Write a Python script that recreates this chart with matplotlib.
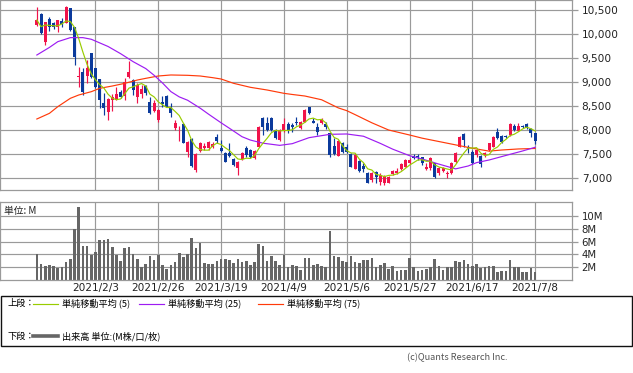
import numpy as np
import pandas as pd
import matplotlib
matplotlib.use("Agg")
import matplotlib.pyplot as plt
from matplotlib.lines import Line2D
from matplotlib.patches import Rectangle

# ---------------- data ----------------
holidays = ["2021-02-11", "2021-02-23", "2021-04-29",
            "2021-05-03", "2021-05-04", "2021-05-05"]
dates = pd.bdate_range("2021-01-14", "2021-07-08", freq="C", holidays=holidays)

opens = [10190, 10415, 9840, 10310, 10235, 10140, 10270, 10235, 10535, 10150,
         9100, 9215, 9125, 9595, 9285, 9060, 8570, 8380, 8625, 8625,
         8800, 8710, 9110, 9040, 8695, 8750, 8915, 8590, 8405, 8210,
         8590, 8710, 8485, 8035, 7975, 8125, 7550, 7805, 7165, 7570,
         7620, 7620, 7655, 7860, 7620, 7530, 7530, 7390, 7200, 7390,
         7620, 7585, 7410, 7655, 8245, 8155, 8245, 8000, 7790, 8000,
         8125, 8105, 8175, 8035, 8175, 8470, 8195, 8055, 8140, 8125,
         7930, 7675, 7465, 7720, 7655, 7495, 7190, 7355, 7250, 7110,
         6960, 7130, 6925, 6890, 6905, 7085, 7100, 7185, 7235, 7305,
         7465, 7460, 7430, 7180, 7200, 7305, 7100, 7155, 7085, 7100,
         7340, 7655, 7915, 7650, 7545, 7480, 7460, 7480, 7585, 7655,
         7965, 7875, 7875, 7895, 8085, 7985, 8090, 8125, 8015, 7930]
highs = [10555, 10430, 10260, 10345, 10255, 10295, 10325, 10590, 10540, 10155,
         9320, 9285, 9460, 9610, 9300, 9065, 8765, 8660, 8745, 8890,
         8835, 9075, 9435, 9055, 8970, 8935, 8935, 8695, 8625, 8430,
         8710, 8730, 8555, 8210, 8085, 8155, 7780, 7825, 7515, 7755,
         7735, 7765, 7755, 7915, 7790, 7550, 7735, 7410, 7345, 7550,
         7665, 7600, 7585, 8085, 8280, 8280, 8265, 8015, 8015, 8245,
         8175, 8140, 8275, 8195, 8430, 8485, 8245, 8140, 8245, 8175,
         7945, 7825, 7790, 7755, 7710, 7515, 7530, 7375, 7305, 7130,
         7130, 7150, 7095, 7060, 7040, 7165, 7200, 7320, 7390, 7410,
         7500, 7500, 7445, 7305, 7445, 7320, 7235, 7220, 7155, 7340,
         7550, 7875, 7930, 7690, 7585, 7600, 7480, 7550, 7735, 7875,
         8035, 7895, 7895, 8140, 8125, 8155, 8105, 8155, 8035, 7945]
lows = [10175, 9995, 9770, 10070, 10100, 10050, 10155, 10220, 10070, 9355,
        8905, 8730, 8985, 9075, 8870, 8450, 8310, 8210, 8400, 8620,
        8660, 8625, 9075, 8730, 8555, 8660, 8730, 8335, 8380, 8175,
        8485, 8470, 8280, 8000, 7780, 7720, 7445, 7235, 7130, 7545,
        7585, 7585, 7620, 7735, 7545, 7325, 7445, 7255, 7060, 7375,
        7445, 7410, 7395, 7640, 7895, 7985, 7985, 7805, 7780, 7965,
        7930, 7965, 8105, 8015, 8160, 8335, 8140, 7895, 8125, 8015,
        7445, 7480, 7455, 7530, 7530, 7220, 7185, 7130, 7130, 6890,
        6925, 6890, 6855, 6855, 6890, 7060, 7085, 7165, 7220, 7290,
        7390, 7375, 7270, 7165, 7165, 7005, 7060, 7130, 6995, 7085,
        7320, 7640, 7655, 7530, 7290, 7445, 7235, 7445, 7570, 7640,
        7805, 7735, 7825, 7880, 7985, 7980, 8035, 8015, 7860, 7710]
closes = [10290, 10015, 10255, 10155, 10140, 10290, 10210, 10570, 10085, 9530,
          9125, 8800, 9285, 9110, 8905, 8625, 8450, 8640, 8695, 8750,
          8695, 9005, 9215, 8835, 8935, 8845, 8765, 8350, 8555, 8415,
          8540, 8485, 8345, 8155, 7985, 7735, 7755, 7250, 7500, 7720,
          7675, 7755, 7705, 7780, 7570, 7340, 7460, 7270, 7340, 7515,
          7480, 7430, 7570, 8070, 8070, 8000, 8000, 7825, 8000, 8125,
          8000, 8070, 8140, 8175, 8415, 8350, 8155, 7965, 8220, 8055,
          7480, 7500, 7775, 7550, 7550, 7235, 7480, 7155, 7180, 6905,
          7110, 7030, 7060, 7040, 7030, 7145, 7155, 7290, 7375, 7375,
          7410, 7430, 7305, 7220, 7410, 7015, 7200, 7200, 7110, 7320,
          7530, 7860, 7790, 7625, 7305, 7585, 7290, 7530, 7720, 7860,
          7825, 7760, 7850, 8120, 8000, 8085, 8055, 8040, 7945, 7780]
volumes_m = [4.0, 2.5, 2.2, 2.35, 2.2, 1.9, 2.0, 2.8, 3.3, 8.0,
             11.4, 5.3, 5.3, 3.9, 4.4, 6.25, 6.25, 6.4, 5.2, 3.9,
             3.0, 5.0, 5.2, 4.0, 3.3, 2.0, 2.5, 3.75, 3.1, 3.9,
             2.35, 1.7, 2.35, 2.8, 4.2, 3.6, 4.0, 6.6, 5.0, 5.8,
             2.65, 2.5, 2.5, 3.0, 3.3, 3.3, 3.1, 2.65, 3.3, 2.8,
             3.0, 2.35, 2.8, 5.6, 5.3, 3.0, 3.75, 3.0, 2.35, 3.9,
             2.0, 2.35, 2.2, 1.55, 3.45, 3.45, 2.35, 2.5, 2.2, 2.0,
             7.65, 3.75, 3.6, 3.0, 2.8, 3.75, 2.8, 2.65, 3.1, 3.1,
             3.45, 2.0, 2.35, 2.65, 1.7, 2.2, 1.4, 1.55, 1.55, 3.45,
             2.0, 1.4, 1.55, 1.7, 2.0, 3.3, 2.2, 1.55, 2.0, 2.0,
             3.0, 2.8, 3.1, 2.5, 2.2, 2.5, 1.9, 2.0, 2.2, 2.2,
             1.25, 1.4, 1.4, 3.1, 2.0, 2.0, 1.25, 1.25, 1.9, 1.25]

# 25 / 75 day moving averages (trading-day index, value)
ma25_idx = [0, 3, 5, 8, 11, 13, 17, 20, 23, 26, 28, 30, 32, 34, 36, 39, 41, 44,
            46, 49, 51, 54, 58, 61, 65, 70, 74, 78, 82, 85, 89, 92, 96, 100,
            103, 105, 108, 113, 116, 119]
ma25_val = [9562, 9720, 9840, 9924, 9924, 9890, 9740, 9590, 9423, 9280, 9140,
            8980, 8800, 8690, 8620, 8455, 8330, 8150, 8035, 7860, 7790, 7725,
            7680, 7715, 7840, 7910, 7917, 7870, 7722, 7600, 7465, 7396, 7290,
            7190, 7250, 7320, 7375, 7493, 7563, 7640]
ma75_idx = [0, 3, 5, 8, 10, 13, 15, 18, 21, 24, 26, 29, 32, 36, 39, 42, 44, 47,
            51, 55, 59, 61, 64, 68, 72, 74, 76, 80, 84, 89, 92, 96, 100, 104,
            108, 111, 115, 119]
ma75_val = [8229, 8347, 8486, 8660, 8729, 8798, 8868, 8916, 8972, 9041, 9076,
            9125, 9146, 9139, 9125, 9090, 9062, 8972, 8889, 8833, 8764, 8740,
            8708, 8630, 8460, 8403, 8320, 8150, 8000, 7896, 7830, 7760, 7690,
            7620, 7560, 7583, 7605, 7615]

price_ticks = [7000, 7500, 8000, 8500, 9000, 9500, 10000, 10500]
price_tick_labels = ["7,000", "7,500", "8,000", "8,500", "9,000", "9,500",
                     "10,000", "10,500"]
vol_ticks = [2, 4, 6, 8, 10]
vol_tick_labels = ["2M", "4M", "6M", "8M", "10M"]
date_tick_labels = ["2021/2/3", "2021/2/26", "2021/3/19", "2021/4/9",
                    "2021/5/6", "2021/5/27", "2021/6/17", "2021/7/8"]

# ---------------- styling ----------------
RED = "#f0134a"
BLUE = "#0b3a9c"
GRID = "#9a9a9a"
C5 = "#99cc00"
C25 = "#9d1cf2"
C75 = "#ff3a0a"
VOLC = "#666666"
JP = ["Noto Sans CJK JP", "DejaVu Sans"]

W, H = 633, 373
fig = plt.figure(figsize=(W / 100, H / 100), dpi=100)


def rect(l, t, r, b):
    return [l / W, 1 - b / H, (r - l) / W, (b - t) / H]


def fx(px):
    return px / W


def fy(py):
    return 1 - py / H


x = np.arange(len(dates))
O = np.array(opens, float)
Hh = np.array(highs, float)
L = np.array(lows, float)
C = np.array(closes, float)
ma5 = pd.Series(C).rolling(5, min_periods=1).mean().values

date_strs = [f"{d.year}/{d.month}/{d.day}" for d in dates]
tick_pos = [date_strs.index(s) for s in date_tick_labels]

xlim = (-8.8, 127.8)

# ---------------- price panel ----------------
ax = fig.add_axes(rect(0, 0, 572, 190))
ax.set_xlim(*xlim)
ax.set_ylim(6750, 10708)
up = C >= O
cols = np.where(up, RED, BLUE)
ax.vlines(x, L, Hh, colors=cols, lw=0.85, zorder=2)
body_b = np.minimum(O, C)
body_h = np.maximum(np.abs(C - O), 14)
ax.bar(x, body_h, bottom=body_b, width=0.72, color=cols, lw=0, zorder=2)
ax.plot(ma75_idx, ma75_val, color=C75, lw=0.85, zorder=3)
ax.plot(ma25_idx, ma25_val, color=C25, lw=0.85, zorder=3)
ax.plot(x, ma5, color=C5, lw=0.85, zorder=4)

ax.set_yticks(price_ticks)
ax.set_yticklabels(price_tick_labels)
ax.yaxis.tick_right()
ax.set_xticks(tick_pos)
ax.set_xticklabels([])
ax.tick_params(axis="x", length=0)
ax.tick_params(axis="y", length=4, width=0.9, color=GRID, pad=3,
               labelsize=7.6, labelcolor="#222222")
ax.grid(True, color=GRID, lw=0.85, zorder=0)
ax.set_axisbelow(True)
for s in ax.spines.values():
    s.set_color(GRID)
    s.set_linewidth(0.9)

# ---------------- volume panel ----------------
axv = fig.add_axes(rect(0, 201.7, 572, 280))
axv.set_xlim(*xlim)
axv.set_ylim(0, 12.25)
axv.bar(x, volumes_m, width=0.62, color=VOLC, lw=0, zorder=2)
axv.set_yticks(vol_ticks)
axv.set_yticklabels(vol_tick_labels)
axv.yaxis.tick_right()
axv.set_xticks(tick_pos)
axv.set_xticklabels(date_tick_labels)
axv.tick_params(axis="x", length=0, pad=2.5, labelsize=7.6, labelcolor="#222222")
axv.tick_params(axis="y", length=4, width=0.9, color=GRID, pad=3,
                labelsize=7.3, labelcolor="#222222")
axv.grid(True, color=GRID, lw=0.85, zorder=0)
axv.set_axisbelow(True)
for s in axv.spines.values():
    s.set_color(GRID)
    s.set_linewidth(0.9)
axv.text(4 / 572, 0.88, "単位: M", transform=axv.transAxes, family=JP,
         fontsize=7, va="center", ha="left", color="#222222")

# ---------------- legend box ----------------
fig.patches.append(Rectangle((fx(0.5), fy(346)), fx(631.5) - fx(0.5), fy(296) - fy(346),
                             transform=fig.transFigure, fill=False,
                             edgecolor="#111111", lw=1.0))
row1, row2 = 303.5, 336
fig.text(fx(7), fy(row1), "上段：", family=JP, fontsize=6.6, va="center", ha="left")
fig.text(fx(7), fy(row2), "下段：", family=JP, fontsize=6.6, va="center", ha="left")
legend_lines = [((33, 58), C5, 0.85, "単純移動平均 (5)", 62),
                ((139, 164), C25, 0.85, "単純移動平均 (25)", 168),
                ((258, 283), C75, 0.85, "単純移動平均 (75)", 287)]
for (x0, x1), col, lw, label, tx in legend_lines:
    fig.add_artist(Line2D([fx(x0), fx(x1)], [fy(row1), fy(row1)], color=col, lw=lw,
                          transform=fig.transFigure))
    fig.text(fx(tx), fy(row1), label, family=JP, fontsize=6.6, va="center", ha="left")
fig.add_artist(Line2D([fx(33), fx(58)], [fy(row2), fy(row2)], color=VOLC, lw=2.6,
                      transform=fig.transFigure))
fig.text(fx(62), fy(row2), "出来高 単位:(M株/口/枚)", family=JP, fontsize=6.6,
         va="center", ha="left")

fig.text(fx(507), fy(358), "(c)Quants Research Inc.", family=JP, fontsize=6.6,
         va="center", ha="right", color="#555555")

fig.savefig("out.png", dpi=100)
